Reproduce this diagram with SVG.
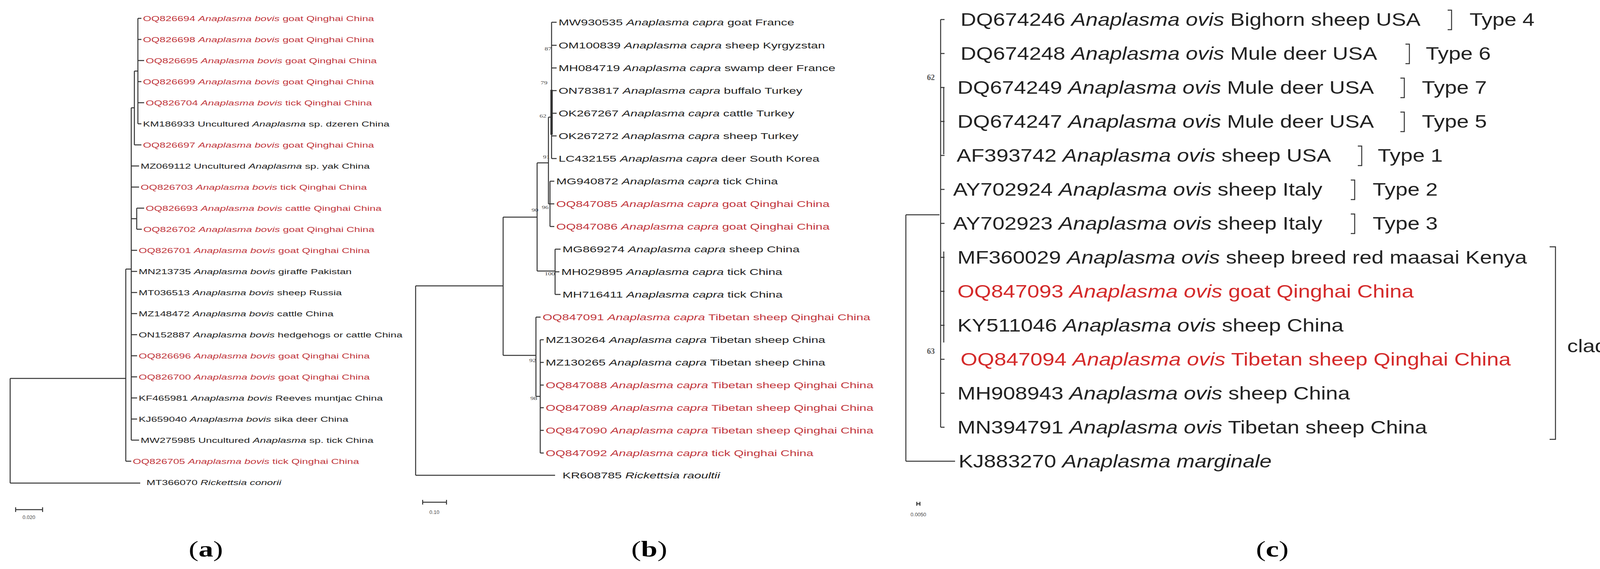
<svg xmlns="http://www.w3.org/2000/svg" width="4236" height="1457" viewBox="0 0 4236 1457">
<style>
.ta{font-family:"Liberation Sans",Arial,sans-serif;font-size:19px;fill:#222}
.tb{font-family:"Liberation Sans",Arial,sans-serif;font-size:22px;fill:#222}
.tc{font-family:"Liberation Sans",Arial,sans-serif;font-size:47px;fill:#222}
.r{fill:#c1363c}
.rc{fill:#d42a2a}
.i{font-style:italic}
.bs{font-family:"Liberation Serif",serif;font-size:12px;fill:#444}
.bc{font-family:"Liberation Serif",serif;font-size:20px;font-weight:bold;fill:#555}
.sc{font-family:"Liberation Sans",Arial,sans-serif;font-size:13px;fill:#444}
.lab{font-family:"Liberation Serif",serif;font-size:58px;fill:#000}
.br{fill:none;stroke:#333;stroke-width:2.5}
</style>
<rect width="4236" height="1457" fill="#fff"/>
<g id="connectors" fill="none" stroke="#333" stroke-width="2.5">
<path d="M26,969V1237M26,969H322M26,1237H359M322,689V1181M322,689H336M322,1181H336M336,276V1127M336,276H344M344,182V371M344,182H353M353,47V317"/>
<path d="M353,47H362M353,101H362M353,155H369M353,209H362M353,263H369M353,317H362M344,371H362M336,425H356M336,479H356M336,560H350M350,533V587M350,533H369M350,587H363M336,641H351M336,695H351M336,749H351M336,803H351M336,857H351M336,911H351M336,965H351M336,1019H351M336,1073H351M336,1127H356"/>
<path d="M1064,732V1217M1064,732H1288M1064,1217H1421M1288,556V910M1288,556H1375M1288,910H1372M1375,417V694M1375,417H1404M1375,694H1421M1404,300V522M1404,300H1412M1404,522H1408M1412,57V406M1408,464V580M1421,638V754M1372,812V1015M1372,1015H1383M1383,870V1160"/>
<path d="M1412,57H1425M1412,116H1425M1412,174H1425M1412,232H1425M1412,290H1425M1412,348H1425M1412,406H1425M1408,464H1419M1408,522H1419M1408,580H1419M1421,638H1435M1421,696H1432M1421,754H1435M1372,812H1384M1383,870H1392M1383,928H1392M1383,986H1392M1383,1044H1392M1383,1102H1392M1383,1160H1392"/>
<path d="M1412,230V345" stroke-width="6"/>
<path d="M2319,550V1181M2319,550H2405M2319,1181H2445M2408,50V1094M2416,223V395M2416,644V877M2408,50H2418M2408,137H2418M2408,224H2418M2408,311H2418M2408,398H2418M2408,485H2418M2408,572H2418M2408,659H2418M2408,746H2418M2408,833H2418M2408,920H2418M2408,1007H2418M2408,1094H2418"/>
</g>
<g id="panel-a-text" transform="scale(1.44,1)">
<text class="ta r" x="254.2" y="54">OQ826694 <tspan class="i">Anaplasma bovis</tspan> goat Qinghai China</text>
<text class="ta r" x="254.2" y="108">OQ826698 <tspan class="i">Anaplasma bovis</tspan> goat Qinghai China</text>
<text class="ta r" x="259" y="162">OQ826695 <tspan class="i">Anaplasma bovis</tspan> goat Qinghai China</text>
<text class="ta r" x="254.2" y="216">OQ826699 <tspan class="i">Anaplasma bovis</tspan> goat Qinghai China</text>
<text class="ta r" x="259" y="270">OQ826704 <tspan class="i">Anaplasma bovis</tspan> tick Qinghai China</text>
<text class="ta" x="254.2" y="324">KM186933 Uncultured <tspan class="i">Anaplasma</tspan> sp. dzeren China</text>
<text class="ta r" x="254.2" y="378">OQ826697 <tspan class="i">Anaplasma bovis</tspan> goat Qinghai China</text>
<text class="ta" x="250" y="432">MZ069112 Uncultured <tspan class="i">Anaplasma</tspan> sp. yak China</text>
<text class="ta r" x="250" y="486">OQ826703 <tspan class="i">Anaplasma bovis</tspan> tick Qinghai China</text>
<text class="ta r" x="259" y="540">OQ826693 <tspan class="i">Anaplasma bovis</tspan> cattle Qinghai China</text>
<text class="ta r" x="254.9" y="594">OQ826702 <tspan class="i">Anaplasma bovis</tspan> goat Qinghai China</text>
<text class="ta r" x="246.5" y="648">OQ826701 <tspan class="i">Anaplasma bovis</tspan> goat Qinghai China</text>
<text class="ta" x="246.5" y="702">MN213735 <tspan class="i">Anaplasma bovis</tspan> giraffe Pakistan</text>
<text class="ta" x="246.5" y="756">MT036513 <tspan class="i">Anaplasma bovis</tspan> sheep Russia</text>
<text class="ta" x="246.5" y="810">MZ148472 <tspan class="i">Anaplasma bovis</tspan> cattle China</text>
<text class="ta" x="246.5" y="864">ON152887 <tspan class="i">Anaplasma bovis</tspan> hedgehogs or cattle China</text>
<text class="ta r" x="246.5" y="918">OQ826696 <tspan class="i">Anaplasma bovis</tspan> goat Qinghai China</text>
<text class="ta r" x="246.5" y="972">OQ826700 <tspan class="i">Anaplasma bovis</tspan> goat Qinghai China</text>
<text class="ta" x="246.5" y="1026">KF465981 <tspan class="i">Anaplasma bovis</tspan> Reeves muntjac China</text>
<text class="ta" x="246.5" y="1080">KJ659040 <tspan class="i">Anaplasma bovis</tspan> sika deer China</text>
<text class="ta" x="250" y="1134">MW275985 Uncultured <tspan class="i">Anaplasma</tspan> sp. tick China</text>
<text class="ta r" x="236.1" y="1188">OQ826705 <tspan class="i">Anaplasma bovis</tspan> tick Qinghai China</text>
<text class="ta" x="260.4" y="1242">MT366070 <tspan class="i">Rickettsia conorii</tspan></text>
</g>
<g id="panel-b-text" transform="scale(1.46,1)">
<text class="tb" x="979.5" y="65">MW930535 <tspan class="i">Anaplasma capra</tspan> goat France</text>
<text class="tb" x="979.5" y="124">OM100839 <tspan class="i">Anaplasma capra</tspan> sheep Kyrgyzstan</text>
<text class="tb" x="979.5" y="182">MH084719 <tspan class="i">Anaplasma capra</tspan> swamp deer France</text>
<text class="tb" x="979.5" y="240">ON783817 <tspan class="i">Anaplasma capra</tspan> buffalo Turkey</text>
<text class="tb" x="979.5" y="298">OK267267 <tspan class="i">Anaplasma capra</tspan> cattle Turkey</text>
<text class="tb" x="979.5" y="356">OK267272 <tspan class="i">Anaplasma capra</tspan> sheep Turkey</text>
<text class="tb" x="979.5" y="414">LC432155 <tspan class="i">Anaplasma capra</tspan> deer South Korea</text>
<text class="tb" x="975.3" y="472">MG940872 <tspan class="i">Anaplasma capra</tspan> tick China</text>
<text class="tb r" x="975.3" y="530">OQ847085 <tspan class="i">Anaplasma capra</tspan> goat Qinghai China</text>
<text class="tb r" x="975.3" y="588">OQ847086 <tspan class="i">Anaplasma capra</tspan> goat Qinghai China</text>
<text class="tb" x="986.3" y="646">MG869274 <tspan class="i">Anaplasma capra</tspan> sheep China</text>
<text class="tb" x="984.2" y="704">MH029895 <tspan class="i">Anaplasma capra</tspan> tick China</text>
<text class="tb" x="986.3" y="762">MH716411 <tspan class="i">Anaplasma capra</tspan> tick China</text>
<text class="tb r" x="951.4" y="820">OQ847091 <tspan class="i">Anaplasma capra</tspan> Tibetan sheep Qinghai China</text>
<text class="tb" x="956.8" y="878">MZ130264 <tspan class="i">Anaplasma capra</tspan> Tibetan sheep China</text>
<text class="tb" x="956.8" y="936">MZ130265 <tspan class="i">Anaplasma capra</tspan> Tibetan sheep China</text>
<text class="tb r" x="956.8" y="994">OQ847088 <tspan class="i">Anaplasma capra</tspan> Tibetan sheep Qinghai China</text>
<text class="tb r" x="956.8" y="1052">OQ847089 <tspan class="i">Anaplasma capra</tspan> Tibetan sheep Qinghai China</text>
<text class="tb r" x="956.8" y="1110">OQ847090 <tspan class="i">Anaplasma capra</tspan> Tibetan sheep Qinghai China</text>
<text class="tb r" x="956.8" y="1168">OQ847092 <tspan class="i">Anaplasma capra</tspan> tick Qinghai China</text>
<text class="tb" x="986.3" y="1225">KR608785 <tspan class="i">Rickettsia raoultii</tspan></text>
<g class="bs">
<text x="955" y="129">87</text><text x="948" y="216">79</text><text x="946" y="301">62</text><text x="952" y="406">91</text><text x="950" y="535">96</text><text x="932" y="542">90</text><text x="955" y="705">100</text><text x="928" y="927">92</text><text x="930" y="1024">98</text>
</g>
</g>
<g id="panel-c-text" transform="scale(1.18,1)">
<text class="tc" x="2083.9" y="66">DQ674246 <tspan class="i">Anaplasma ovis</tspan> Bighorn sheep USA</text>
<text class="tc" x="2083.9" y="153">DQ674248 <tspan class="i">Anaplasma ovis</tspan> Mule deer USA</text>
<text class="tc" x="2077.1" y="240">DQ674249 <tspan class="i">Anaplasma ovis</tspan> Mule deer USA</text>
<text class="tc" x="2077.1" y="327">DQ674247 <tspan class="i">Anaplasma ovis</tspan> Mule deer USA</text>
<text class="tc" x="2075.4" y="414">AF393742 <tspan class="i">Anaplasma ovis</tspan> sheep USA</text>
<text class="tc" x="2067.8" y="501">AY702924 <tspan class="i">Anaplasma ovis</tspan> sheep Italy</text>
<text class="tc" x="2067.8" y="588">AY702923 <tspan class="i">Anaplasma ovis</tspan> sheep Italy</text>
<text class="tc" x="2077.1" y="675">MF360029 <tspan class="i">Anaplasma ovis</tspan> sheep breed red maasai Kenya</text>
<text class="tc rc" x="2077.1" y="762">OQ847093 <tspan class="i">Anaplasma ovis</tspan> goat Qinghai China</text>
<text class="tc" x="2077.1" y="849">KY511046 <tspan class="i">Anaplasma ovis</tspan> sheep China</text>
<text class="tc rc" x="2083.9" y="936">OQ847094 <tspan class="i">Anaplasma ovis</tspan> Tibetan sheep Qinghai China</text>
<text class="tc" x="2077.1" y="1023">MH908943 <tspan class="i">Anaplasma ovis</tspan> sheep China</text>
<text class="tc" x="2077.1" y="1110">MN394791 <tspan class="i">Anaplasma ovis</tspan> Tibetan sheep China</text>
<text class="tc" x="2079.7" y="1197">KJ883270 <tspan class="i">Anaplasma marginale</tspan></text>
<text class="tc" x="3188.1" y="66">Type 4</text>
<text class="tc" x="3093.2" y="153">Type 6</text>
<text class="tc" x="3084.7" y="240">Type 7</text>
<text class="tc" x="3084.7" y="327">Type 5</text>
<text class="tc" x="2989" y="414">Type 1</text>
<text class="tc" x="2978" y="501">Type 2</text>
<text class="tc" x="2978" y="588">Type 3</text>
<text class="tc" x="3400" y="902" font-size="42">clade 1</text>
</g>
<g id="brackets" class="br">
<path d="M3706,26H3716V76H3706"/>
<path d="M3598,113H3608V163H3598"/>
<path d="M3585,200H3595V250H3585"/>
<path d="M3585,287H3595V337H3585"/>
<path d="M3476,374H3486V424H3476"/>
<path d="M3458,461H3468V511H3458"/>
<path d="M3458,548H3468V598H3458"/>
<path d="M3967,632H3982V1125H3967"/>
</g>
<g id="bootstrap-c" class="bc">
<text x="2383" y="205" text-anchor="middle">62</text>
<text x="2383" y="906" text-anchor="middle">63</text>
</g>
<g id="scale-bars">
<path d="M40,1305H109M40,1299V1311M109,1299V1311M1082,1286H1143M1082,1280V1292M1143,1280V1292M2347,1290H2355M2347,1285V1295M2355,1285V1295" stroke="#333" stroke-width="2.5" fill="none"/>
<text class="sc" x="74" y="1329" text-anchor="middle">0.020</text>
<text class="sc" x="1112" y="1316" text-anchor="middle">0.10</text>
<text class="sc" x="2351" y="1322" text-anchor="middle" font-size="11">0.0050</text>
</g>
<g id="panel-labels" transform="scale(1.3,1)">
<text class="lab" x="405.4" y="1425" text-anchor="middle">(<tspan font-weight="bold">a</tspan>)</text>
<text class="lab" x="1278.5" y="1425" text-anchor="middle">(<tspan font-weight="bold">b</tspan>)</text>
<text class="lab" x="2505.4" y="1425" text-anchor="middle">(<tspan font-weight="bold">c</tspan>)</text>
</g>
</svg>
